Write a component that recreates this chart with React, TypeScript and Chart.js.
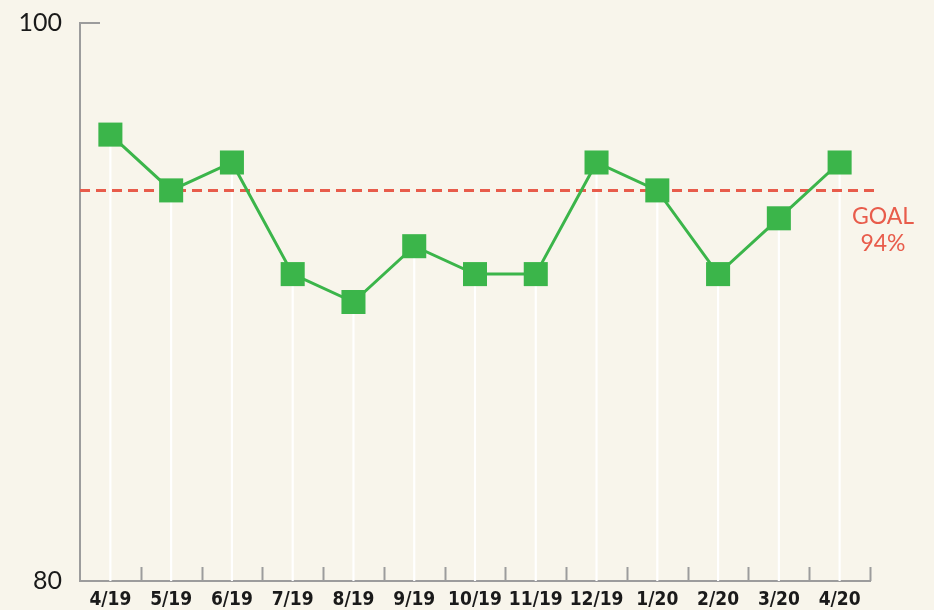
import React, { useEffect, useRef } from "react";
import { Chart, registerables } from "chart.js";

Chart.register(...registerables);

const categories = ["4/19", "5/19", "6/19", "7/19", "8/19", "9/19", "10/19", "11/19", "12/19", "1/20", "2/20", "3/20", "4/20"];
const values = [96, 94, 95, 91, 90, 92, 91, 91, 95, 94, 91, 93, 95];
const goalValue = 94;
const goalLabel = ["GOAL", "94%"];
const yMin = 80;
const yMax = 100;

const BG = "#f8f5eb";
const GREEN = "#3bb54a";
const RED = "#e85c4b";
const AXIS = "#9c9c9c";

const overlayPlugin = {
  id: "overlay",
  afterDatasetDraw(chart: any, args: any) {
    if (args.index !== 0) return;
    const { ctx, chartArea, scales } = chart;
    const y = scales.y.getPixelForValue(goalValue);
    ctx.save();
    ctx.strokeStyle = RED;
    ctx.lineWidth = 3;
    ctx.setLineDash([10, 6]);
    ctx.beginPath();
    ctx.moveTo(chartArea.left, y);
    ctx.lineTo(chartArea.right + 7, y);
    ctx.stroke();
    ctx.restore();
  },
  afterDraw(chart: any) {
    const { ctx, chartArea, scales } = chart;
    const xs = scales.x;
    const ys = scales.y;
    ctx.save();
    ctx.strokeStyle = AXIS;
    ctx.lineWidth = 2;
    const yTop = ys.getPixelForValue(yMax);
    ctx.beginPath();
    ctx.moveTo(chartArea.left, yTop);
    ctx.lineTo(chartArea.left + 20, yTop);
    ctx.stroke();
    const n = categories.length;
    for (let i = 1; i <= n; i++) {
      const x = Math.round(xs.getPixelForValue(i - 0.5)) + 0.5;
      ctx.beginPath();
      ctx.moveTo(x, chartArea.bottom);
      ctx.lineTo(x, chartArea.bottom - 14);
      ctx.stroke();
    }
    const gy = ys.getPixelForValue(goalValue);
    ctx.fillStyle = RED;
    ctx.font = "400 23px Lato";
    ctx.textAlign = "center";
    ctx.textBaseline = "middle";
    ctx.fillText(goalLabel[0], chartArea.right + 13, gy + 26);
    ctx.fillText(goalLabel[1], chartArea.right + 13, gy + 53);
    ctx.restore();
  },
};

export default function App() {
  const ref = useRef<HTMLCanvasElement>(null);
  useEffect(() => {
    if (!ref.current) return;
    const chart = new Chart(ref.current, {
      type: "line",
      data: {
        labels: categories,
        datasets: [
          {
            type: "bar",
            data: values,
            backgroundColor: "#ffffff",
            barThickness: 1.5,
            order: 2,
          } as any,
          {
            type: "line",
            data: values,
            borderColor: GREEN,
            borderWidth: 3,
            tension: 0,
            pointStyle: "rect",
            pointRadius: 17,
            pointHoverRadius: 17,
            pointBackgroundColor: GREEN,
            pointBorderWidth: 0,
            order: 1,
          },
        ],
      },
      options: {
        responsive: false,
        animation: false,
        events: [],
        layout: { padding: { top: 22, right: 64, left: 0, bottom: 0 } },
        plugins: { legend: { display: false }, tooltip: { enabled: false } },
        scales: {
          x: {
            offset: true,
            grid: { display: true, drawOnChartArea: false, drawTicks: false, color: "rgba(0,0,0,0)" },
            border: { display: true, color: AXIS, width: 2 },
            ticks: {
              color: "#1a1a1a",
              font: { family: "'Liberation Sans Narrow', 'DejaVu Sans Condensed', sans-serif", size: 19, weight: "bold" },
              padding: 8,
              maxRotation: 0,
              autoSkip: false,
            },
            afterFit: (s: any) => { s.height = 29; },
          },
          y: {
            min: yMin,
            max: yMax,
            grid: { display: true, drawOnChartArea: false, drawTicks: false, color: "rgba(0,0,0,0)" },
            border: { display: true, color: AXIS, width: 2 },
            ticks: {
              stepSize: 20,
              color: "#1a1a1a",
              font: { family: "Lato, sans-serif", size: 25, lineHeight: 0.4 },
              padding: 18,
            },
            afterFit: (s: any) => { s.width = 80; },
          },
        },
      },
      plugins: [overlayPlugin],
    });
    return () => chart.destroy();
  }, []);
  return (
    <div style={{ position: "fixed", left: 0, top: 0, width: 934, height: 610, background: BG }}>
      <canvas ref={ref} width={934} height={610} style={{ display: "block" }} />
    </div>
  );
}
